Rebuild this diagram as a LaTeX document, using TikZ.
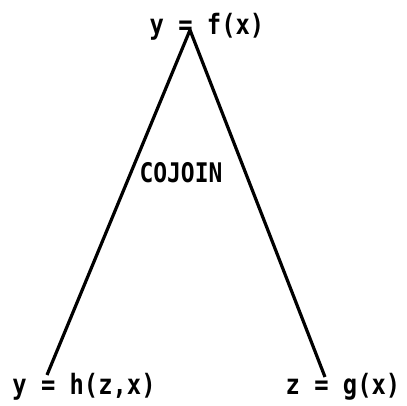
\documentclass[tikz,border=0pt]{standalone}
\usepackage{fontspec}
\newfontfamily\printfont[FakeStretch=0.85]{DejaVu Sans Mono}
\usetikzlibrary{positioning}

\begin{document}
\begin{tikzpicture}[
    x=1pt, y=1pt,
    lbl/.style={inner sep=0pt, anchor=base, font=\printfont\bfseries\fontsize{28}{30}\selectfont},
    tag/.style={inner sep=0pt, anchor=base, font=\printfont\bfseries\fontsize{27}{29}\selectfont},
    edge/.style={line width=3.2pt}
]
\useasboundingbox (0,0) rectangle (407,406);
% apex and the two feet of the tree
\coordinate (apex) at (190,376);
\coordinate (hfoot) at (47,31);
\coordinate (gfoot) at (325,29);

\node[lbl] (fnode) at (207,371) {y = f(x)};
\node[lbl] (hnode) at (84,11) {y = h(z,x)};
\node[lbl] (gnode) at (343,11) {z = g(x)};
\node[tag] (cojoin) at (181,223) {COJOIN};

\draw[edge] (apex) -- (hfoot);
\draw[edge] (apex) -- (gfoot);
\end{tikzpicture}
\end{document}
